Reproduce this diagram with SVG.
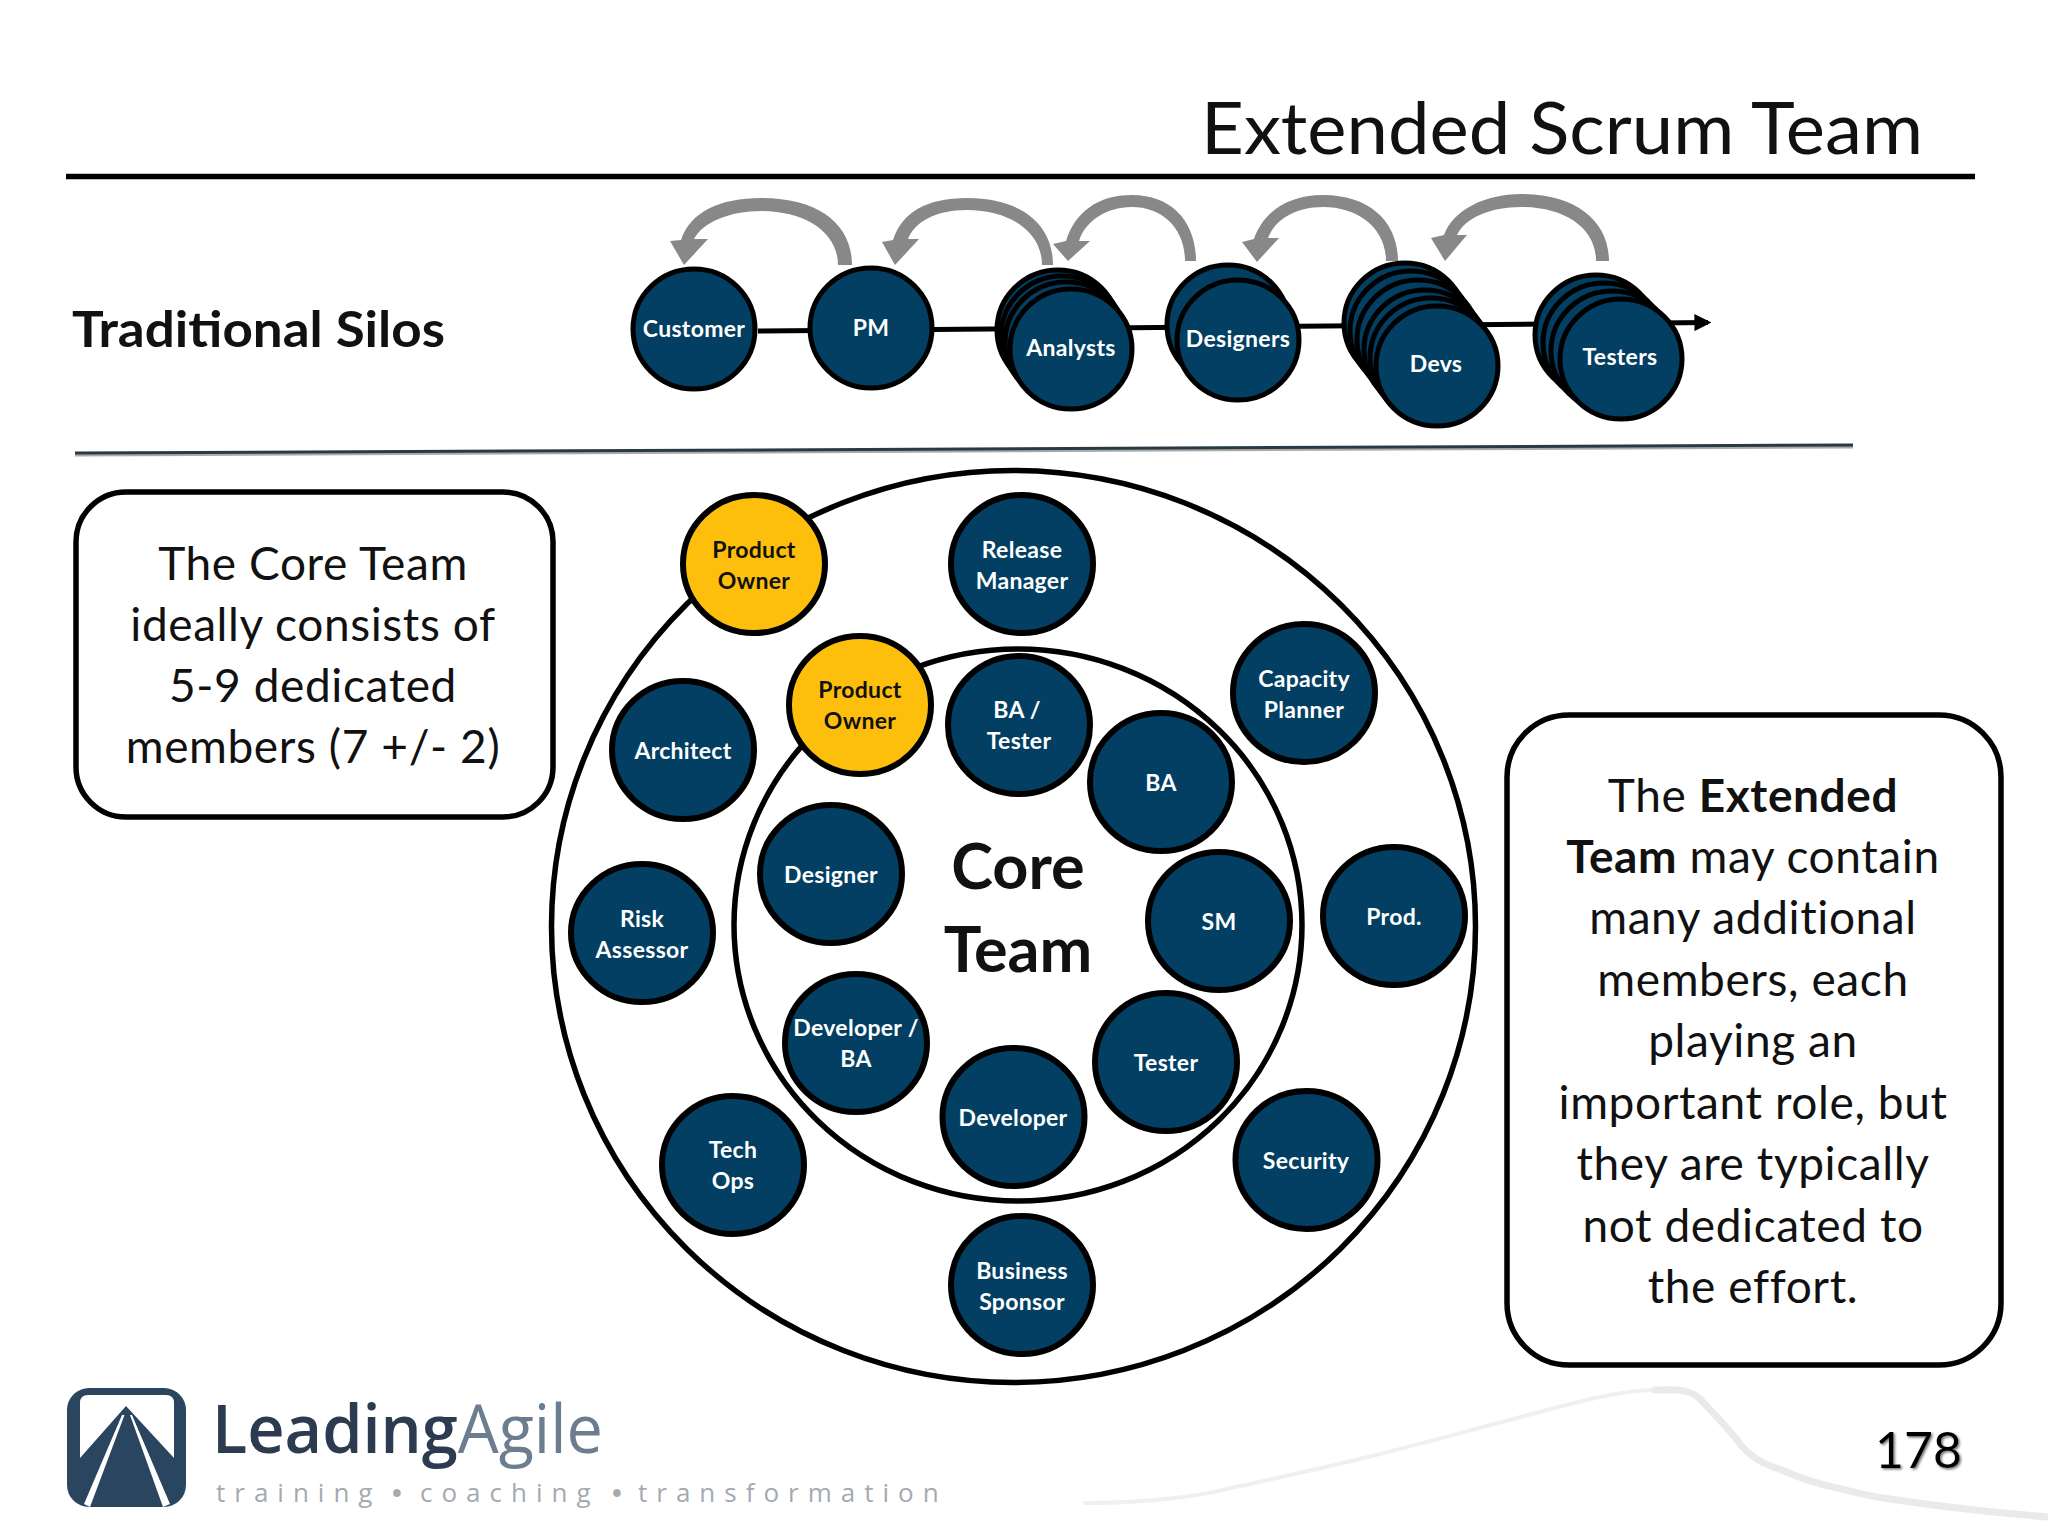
<svg xmlns="http://www.w3.org/2000/svg" width="2048" height="1536" viewBox="0 0 2048 1536">
<style>
text{font-family:"Lato","Open Sans","Liberation Sans",sans-serif}
.n{fill:#023f63;stroke:#000;stroke-width:6}
.s{fill:#023f63;stroke:#000;stroke-width:5}
.y{fill:#fdbf0b;stroke:#000;stroke-width:6}
.l{fill:#fff;font-size:23px;font-weight:700;text-anchor:middle;letter-spacing:.3px}
.d{fill:#111;font-size:23px;font-weight:700;text-anchor:middle;letter-spacing:.3px}
.b{font-size:46px;fill:#111;text-anchor:middle;letter-spacing:.6px}
.a{fill:#888}
.box{fill:#fff;stroke:#000;stroke-width:5.500}
.logo{font-family:"Open Sans",sans-serif}
</style>
<defs><filter id="sh" x="-10%" y="-10%" width="120%" height="120%"><feDropShadow dx="1.500" dy="1.500" stdDeviation="1" flood-color="#777"/></filter>
<marker id="tip" viewBox="0 0 5 5" markerWidth="3.400" markerHeight="3.400" refX="4" refY="2.500" orient="auto"><path d="M0,0L5,2.500L0,5Z" fill="#000"/></marker></defs>
<rect width="2048" height="1536" fill="#fff"/>
<text id="title" x="1201" y="154" font-size="71" fill="#111" textLength="722" lengthAdjust="spacingAndGlyphs">Extended Scrum Team</text>
<line x1="66" y1="176.500" x2="1975" y2="176.500" stroke="#000" stroke-width="5.500"/>
<text id="silos" x="72" y="347" font-size="50" font-weight="700" fill="#111" textLength="373" lengthAdjust="spacingAndGlyphs">Traditional Silos</text>
<line x1="75" y1="455" x2="1853" y2="447" stroke="#aaa" stroke-width="3"/>
<line x1="75" y1="453" x2="1853" y2="445" stroke="#2a3a44" stroke-width="3"/>
<g id="connectors">
<path d="M758,331L1708,322.500" stroke="#000" stroke-width="5" fill="none" marker-end="url(#tip)"/>
<path class="a" d="M852,265C852,225 820,198 761,198C720,198 690,212 681,240L670,241L684,265L708,239L694,239C703,222 730,211 761,211C805,211 838,232 838,265Z"/>
<path class="a" d="M1053,265C1053,225 1022,198 967,198C927,198 902,212 893,240L882,242L895,265L919,239L908,239C915,222 935,210 967,210C1010,210 1042,232 1042,265Z"/>
<path class="a" d="M1196,261C1196,222 1172,195 1132,195C1098,195 1075,212 1066,241L1053,244L1068,261L1090,241L1079,241C1085,222 1105,207 1132,207C1162,207 1185,228 1185,261Z"/>
<path class="a" d="M1398,261C1398,222 1370,195 1323,195C1288,195 1263,212 1254,239L1242,242L1257,262L1279,238L1268,238C1275,220 1295,207 1323,207C1358,207 1386,228 1386,261Z"/>
<path class="a" d="M1609,261C1609,222 1577,194 1521,194C1485,194 1453,210 1444,235L1431,238L1445,261L1467,235L1457,235C1465,218 1490,207 1521,207C1565,207 1596,228 1596,261Z"/>
</g>
<g id="customer"><ellipse class="s" cx="694" cy="329" rx="61" ry="60"/><text class="l" x="694" y="337">Customer</text></g>
<g id="pm"><ellipse class="s" cx="871" cy="328" rx="61" ry="60"/><text class="l" x="871" y="336">PM</text></g>
<g id="analysts"><ellipse class="s" cx="1058" cy="330" rx="61" ry="60"/><ellipse class="s" cx="1062" cy="336" rx="61" ry="60"/><ellipse class="s" cx="1066" cy="342" rx="61" ry="60"/><ellipse class="s" cx="1071" cy="349" rx="61" ry="60"/><text class="l" x="1071" y="356">Analysts</text></g>
<g id="designers"><ellipse class="s" cx="1228" cy="325" rx="61" ry="60"/><ellipse class="s" cx="1238" cy="340" rx="61" ry="60"/><text class="l" x="1238" y="347">Designers</text></g>
<g id="devs"><ellipse class="s" cx="1405" cy="323" rx="61" ry="60"/><ellipse class="s" cx="1411" cy="331" rx="61" ry="60"/><ellipse class="s" cx="1418" cy="340" rx="61" ry="60"/><ellipse class="s" cx="1425" cy="350" rx="61" ry="60"/><ellipse class="s" cx="1431" cy="358" rx="61" ry="60"/><ellipse class="s" cx="1437" cy="366" rx="61" ry="60"/><text class="l" x="1436" y="372">Devs</text></g>
<g id="testers"><ellipse class="s" cx="1596" cy="335" rx="61" ry="60"/><ellipse class="s" cx="1604" cy="343" rx="61" ry="60"/><ellipse class="s" cx="1612" cy="351" rx="61" ry="60"/><ellipse class="s" cx="1621" cy="359" rx="61" ry="60"/><text class="l" x="1620" y="365">Testers</text></g>
<g id="extended-ring"><ellipse cx="1013.500" cy="926.500" rx="462" ry="456" fill="none" stroke="#000" stroke-width="5.500"/></g>
<g id="core-ring"><ellipse cx="1018" cy="925" rx="284" ry="276" fill="none" stroke="#000" stroke-width="5.500"/></g>
<g id="po-outer"><ellipse class="y" cx="754" cy="564" rx="71" ry="69"/><text class="d" x="754" y="558">Product</text><text class="d" x="754" y="589">Owner</text></g>
<g id="release"><ellipse class="n" cx="1022" cy="564" rx="71" ry="69"/><text class="l" x="1022" y="558">Release</text><text class="l" x="1022" y="589">Manager</text></g>
<g id="capacity"><ellipse class="n" cx="1304" cy="693" rx="71" ry="69"/><text class="l" x="1304" y="687">Capacity</text><text class="l" x="1304" y="718">Planner</text></g>
<g id="architect"><ellipse class="n" cx="683" cy="750" rx="71" ry="69"/><text class="l" x="683" y="759">Architect</text></g>
<g id="risk"><ellipse class="n" cx="642" cy="933" rx="71" ry="69"/><text class="l" x="642" y="927">Risk</text><text class="l" x="642" y="958">Assessor</text></g>
<g id="prod"><ellipse class="n" cx="1394" cy="916" rx="71" ry="69"/><text class="l" x="1394" y="925">Prod.</text></g>
<g id="techops"><ellipse class="n" cx="733" cy="1165" rx="71" ry="69"/><text class="l" x="733" y="1158">Tech</text><text class="l" x="733" y="1189">Ops</text></g>
<g id="security"><ellipse class="n" cx="1306.500" cy="1160" rx="71" ry="69"/><text class="l" x="1306" y="1169">Security</text></g>
<g id="sponsor"><ellipse class="n" cx="1022" cy="1285" rx="71" ry="69"/><text class="l" x="1022" y="1279">Business</text><text class="l" x="1022" y="1310">Sponsor</text></g>
<g id="po-inner"><ellipse class="y" cx="860" cy="705" rx="71" ry="69"/><text class="d" x="860" y="698">Product</text><text class="d" x="860" y="729">Owner</text></g>
<g id="ba-tester"><ellipse class="n" cx="1019" cy="725" rx="71" ry="69"/><text class="l" x="1017" y="718">BA /</text><text class="l" x="1019" y="749">Tester</text></g>
<g id="ba"><ellipse class="n" cx="1161" cy="782" rx="71" ry="69"/><text class="l" x="1161" y="791">BA</text></g>
<g id="designer"><ellipse class="n" cx="831" cy="874" rx="71" ry="69"/><text class="l" x="831" y="883">Designer</text></g>
<g id="sm"><ellipse class="n" cx="1219" cy="921" rx="71" ry="69"/><text class="l" x="1219" y="930">SM</text></g>
<g id="dev-ba"><ellipse class="n" cx="856" cy="1043" rx="71" ry="69"/><text class="l" x="856" y="1036">Developer /</text><text class="l" x="856" y="1067">BA</text></g>
<g id="tester"><ellipse class="n" cx="1166" cy="1062" rx="71" ry="69"/><text class="l" x="1166" y="1071">Tester</text></g>
<g id="developer"><ellipse class="n" cx="1013.500" cy="1117" rx="71" ry="69"/><text class="l" x="1013" y="1126">Developer</text></g>
<g id="core-label"><text x="1018" y="889" font-size="63" font-weight="700" text-anchor="middle" fill="#111">Core</text><text x="1018" y="972" font-size="63" font-weight="700" text-anchor="middle" fill="#111">Team</text></g>
<g id="core-note"><rect class="box" x="76" y="492" width="477" height="325" rx="50"/>
<text class="b" x="313" y="580">The Core Team</text><text class="b" x="313" y="641">ideally consists of</text><text class="b" x="313" y="702">5-9 dedicated</text><text class="b" x="313" y="763">members (7 +/- 2)</text></g>
<g id="ext-note"><rect class="box" x="1507" y="715" width="494" height="650" rx="62"/>
<text class="b" x="1753" y="812">The <tspan font-weight="700">Extended</tspan></text><text class="b" x="1753" y="873"><tspan font-weight="700">Team</tspan> may contain</text><text class="b" x="1753" y="934">many additional</text><text class="b" x="1753" y="996">members, each</text><text class="b" x="1753" y="1057">playing an</text><text class="b" x="1753" y="1119">important role, but</text><text class="b" x="1753" y="1180">they are typically</text><text class="b" x="1753" y="1242">not dedicated to</text><text class="b" x="1753" y="1303">the effort.</text></g>
<g id="logo"><rect x="67" y="1388" width="119" height="119" rx="22" fill="#2a4560"/>
<path d="M80,1458V1403Q80,1395 88,1395H166Q174,1395 174,1403V1458L126,1406Z" fill="#fff"/>
<path d="M122,1415L84,1504L90,1507L124.500,1415ZM130,1415L163,1507L170,1504L132,1415Z" fill="#fff"/>
<text class="logo" x="212" y="1453" font-size="67" font-weight="600" fill="#2d3b50" textLength="391" lengthAdjust="spacingAndGlyphs">Leading<tspan fill="#6d7d90" font-weight="400">Agile</tspan></text>
<text class="logo" y="1502" font-size="26" fill="#a4aab0" letter-spacing="9"><tspan x="216">training</tspan><tspan x="392" stroke="#a4aab0" stroke-width="2">•</tspan><tspan x="420">coaching</tspan><tspan x="612" stroke="#a4aab0" stroke-width="2">•</tspan><tspan x="638">transformation</tspan></text></g>
<g id="swoosh" fill="none" stroke-linecap="round"><path d="M1085,1503C1130,1503 1170,1500 1209,1493C1262,1481 1315,1470 1368,1457C1430,1442 1500,1422 1559,1407C1600,1396 1630,1390 1655,1390" stroke="#eff0f0" stroke-width="4"/><path d="M1655,1390C1672,1390 1688,1388 1699,1398C1715,1415 1725,1425 1737,1440C1750,1458 1765,1465 1782,1470C1815,1485 1845,1490 1877,1497C1940,1507 2000,1513 2048,1517" stroke="#e9ebeb" stroke-width="7"/></g>
<text id="page" x="1875" y="1468" font-size="50" fill="#000" filter="url(#sh)">178</text>
</svg>
